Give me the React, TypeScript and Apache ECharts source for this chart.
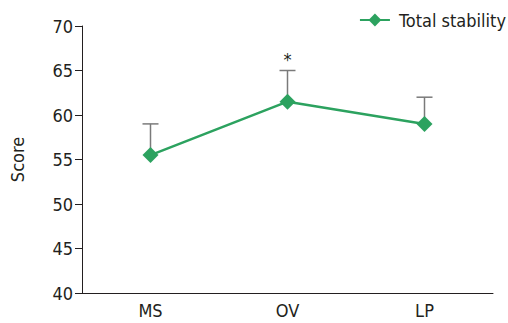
import React, { useEffect, useRef } from "react";
import * as echarts from "echarts";

const categories = ["MS", "OV", "LP"];
const means = [55.5, 61.5, 59.0];
const errorTops = [59.0, 65.0, 62.0];
const annotations = ["", "*", ""];
const seriesName = "Total stability";
const yAxisName = "Score";
const yMin = 40;
const yMax = 70;
const yInterval = 5;

const FONT = "'DejaVu Sans Condensed', 'Liberation Sans Narrow', sans-serif";
const TEXT = "#231f20";
const GREEN = "#2ca25f";
const ERR = "#7a7a7a";

export default function App() {
  const ref = useRef<HTMLDivElement>(null);
  useEffect(() => {
    if (!ref.current) return;
    const chart = echarts.init(ref.current, null, { renderer: "svg" });
    chart.setOption({
      animation: false,
      textStyle: { fontFamily: FONT, color: TEXT },
      grid: { left: 82, right: 15, top: 26, bottom: 30 },
      legend: {
        data: [seriesName],
        right: -3,
        top: 6,
        itemWidth: 30,
        itemHeight: 16,
        itemGap: 8,
        textStyle: { fontFamily: FONT, fontSize: 18, color: TEXT, padding: [0, 0, 0, 4] },
      },
      xAxis: {
        type: "category",
        data: categories,
        boundaryGap: true,
        axisLine: { lineStyle: { color: TEXT, width: 1 } },
        axisTick: { inside: true, length: 7, lineStyle: { color: TEXT } },
        axisLabel: { fontFamily: FONT, fontSize: 18, color: TEXT, margin: 8 },
      },
      yAxis: {
        type: "value",
        min: yMin,
        max: yMax,
        interval: yInterval,
        name: yAxisName,
        nameLocation: "middle",
        nameGap: 56,
        nameTextStyle: { fontFamily: FONT, fontSize: 18, color: TEXT },
        splitLine: { show: false },
        axisLine: { show: true, lineStyle: { color: TEXT, width: 1 } },
        axisTick: { show: true, length: 7, lineStyle: { color: TEXT } },
        axisLabel: { fontFamily: FONT, fontSize: 18, color: TEXT, margin: 9 },
      },
      series: [
        {
          type: "custom",
          name: "err",
          data: categories.map((c, i) => [i, means[i], errorTops[i], annotations[i]]),
          z: 1,
          renderItem: (params: any, api: any) => {
            const x = api.value(0);
            const base = api.coord([x, api.value(1)]);
            const top = api.coord([x, api.value(2)]);
            const ann = api.value(3);
            const children: any[] = [
              { type: "line", shape: { x1: base[0], y1: base[1], x2: top[0], y2: top[1] }, style: { stroke: ERR, lineWidth: 1.5 } },
              { type: "line", shape: { x1: top[0] - 8, y1: top[1], x2: top[0] + 8, y2: top[1] }, style: { stroke: ERR, lineWidth: 1.5 } },
            ];
            if (ann) {
              children.push({
                type: "text",
                style: { text: ann, x: top[0], y: top[1] - 2, align: "center", verticalAlign: "bottom", fontFamily: FONT, fontSize: 18, fill: TEXT },
              });
            }
            return { type: "group", children };
          },
        },
        {
          type: "line",
          name: seriesName,
          data: means,
          z: 3,
          symbol: "diamond",
          symbolSize: 16,
          lineStyle: { color: GREEN, width: 2.5 },
          itemStyle: { color: GREEN },
        },
      ],
    });
    return () => chart.dispose();
  }, []);
  return <div ref={ref} style={{ width: 508, height: 323, position: "absolute", left: 0, top: 0 }} />;
}
